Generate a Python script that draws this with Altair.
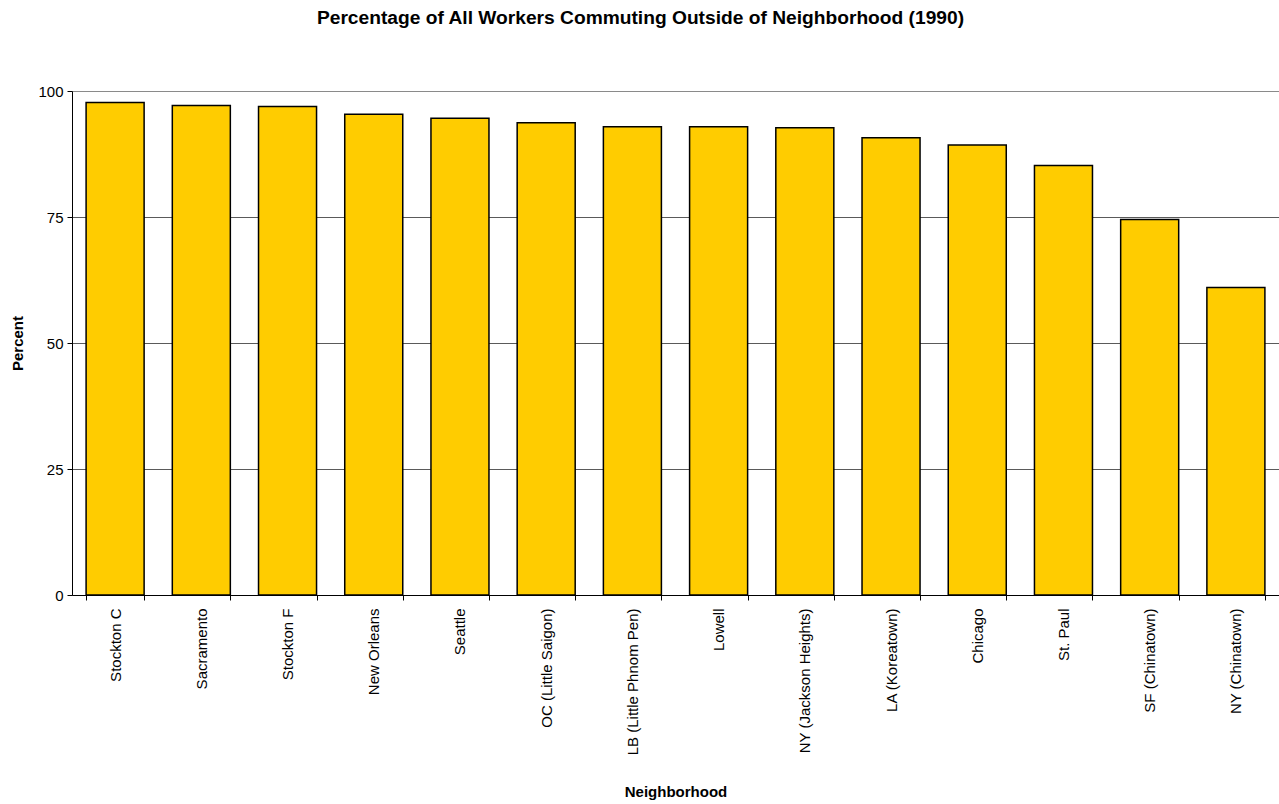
import altair as alt
import pandas as pd

# Share of all workers commuting outside their neighborhood, 1990
neighborhoods = [
    "Stockton C", "Sacramento", "Stockton F", "New Orleans", "Seattle",
    "OC (Little Saigon)", "LB (Little Phnom Pen)", "Lowell",
    "NY (Jackson Heights)", "LA (Koreatown)", "Chicago", "St. Paul",
    "SF (Chinatown)", "NY (Chinatown)",
]
percent = [
    97.7, 97.1, 96.9, 95.4, 94.6,
    93.7, 92.9, 92.9,
    92.7, 90.7, 89.3, 85.2,
    74.5, 61.0,
]

df = pd.DataFrame({"Neighborhood": neighborhoods, "Percent": percent})

FONT = "Liberation Sans"

bars = alt.Chart(df).mark_bar(
    color="#FFCC00", stroke="#000000", strokeWidth=1.5
).encode(
    x=alt.X(
        "Neighborhood:N",
        sort=neighborhoods,
        scale=alt.Scale(paddingInner=0.327, paddingOuter=0.1635),
        axis=alt.Axis(
            title="Neighborhood",
            labelAngle=270,
            labelAlign="right",
            labelBaseline="middle",
            labelPadding=8,
            labelFontSize=15,
            labelColor="#000000",
            labelFont=FONT,
            tickBand="extent",
            tickSize=5,
            tickColor="#000000",
            domainColor="#000000",
            titleFont=FONT,
            titleFontSize=15,
            titleFontWeight="bold",
            titleColor="#000000",
            titleBaseline="middle",
            titleY=196,
        ),
    ),
    y=alt.Y(
        "Percent:Q",
        scale=alt.Scale(domain=[0, 100], nice=False),
        axis=alt.Axis(
            title="Percent",
            values=[0, 25, 50, 75, 100],
            grid=True,
            # the top gridline doubles as the plot frame, drawn lighter
            gridColor={
                "condition": {"test": "datum.value === 100", "value": "#8a8a8a"},
                "value": "#5a5a5a",
            },
            gridWidth=1,
            labelFontSize=15,
            labelColor="#000000",
            labelFont=FONT,
            labelPadding=4,
            tickSize=5,
            tickColor="#000000",
            domainColor="#000000",
            titleFont=FONT,
            titleFontSize=15,
            titleFontWeight="bold",
            titleColor="#000000",
            titleX=-55,
            titleY=252,
            titleBaseline="middle",
        ),
    ),
).properties(
    width=1207,
    height=504,
    title=alt.TitleParams(
        "Percentage of All Workers Commuting Outside of Neighborhood (1990)",
        font=FONT,
        fontSize=19.2,
        fontWeight="bold",
        color="#000000",
        anchor="middle",
        dx=-35,
        offset=56,
    ),
    autosize=alt.AutoSizeParams(type="none"),
    padding={"left": 72, "right": 0, "top": 91, "bottom": 206},
).configure_view(
    stroke="#8a8a8a", strokeWidth=1
).configure(
    background="#ffffff"
)

chart = bars
chart.save("out.html", embed_options={"renderer": "svg", "actions": False})
